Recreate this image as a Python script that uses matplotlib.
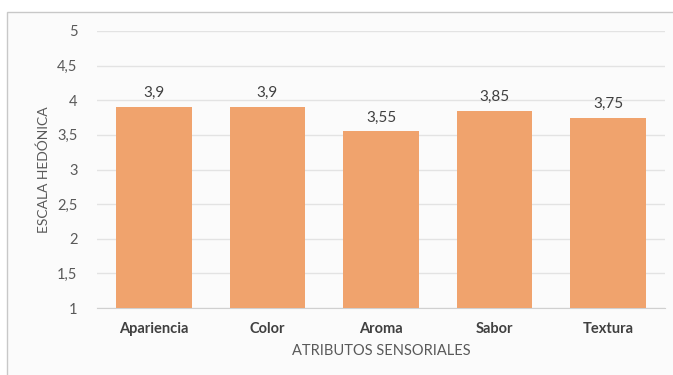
import matplotlib
matplotlib.use("Agg")
from matplotlib import pyplot as plt
from matplotlib.patches import Rectangle

categorias = ["Apariencia", "Color", "Aroma", "Sabor", "Textura"]
valores = [3.9, 3.9, 3.55, 3.85, 3.75]
ticks_y = [1, 1.5, 2, 2.5, 3, 3.5, 4, 4.5, 5]

def fmt(v):
	return ("%g" % v).replace(".", ",")

plt.rcParams['font.family'] = ['Lato', 'DejaVu Sans']

fig = plt.figure(figsize=(6.73, 3.75), dpi=100)
fig.patch.set_facecolor('white')
# chart frame
fig.patches.append(Rectangle((7/673, -0.01), 1.0, 1 - 12/375 + 0.01, transform=fig.transFigure,
	facecolor='#fbfbfb', edgecolor='#c8c8c8', linewidth=1, zorder=-5))

ax = fig.add_axes([97/673, 1 - 308/375, 568/673, 277/375])
ax.set_facecolor('none')
x = range(len(categorias))
ax.bar(x, [v - 1 for v in valores], bottom=1, width=0.667, color='#f0a36d', zorder=3)
for i, v in zip(x, valores):
	ax.text(i, v + 0.1, fmt(v), ha='center', va='bottom', fontsize=11, color='#404040')

ax.set_xlim(-0.5, 4.5)
ax.set_ylim(1, 5)
ax.set_yticks(ticks_y)
ax.set_yticklabels([fmt(t) for t in ticks_y], fontsize=10.5, color='#595959')
ax.set_xticks(list(x))
ax.set_xticklabels(categorias, fontsize=10.5, color='#404040', fontweight='bold')
ax.tick_params(length=0, pad=10)
ax.tick_params(axis='y', pad=14)
ax.grid(axis='y', color='#e3e3e3', linewidth=1, zorder=0)
for s in ['top', 'right', 'left']:
	ax.spines[s].set_visible(False)
ax.spines['bottom'].set_color('#d0d0d0')
ax.set_xlabel('ATRIBUTOS SENSORIALES', fontsize=10.5, color='#595959', labelpad=6)
ax.set_ylabel('ESCALA HEDÓNICA', fontsize=10, color='#595959', labelpad=2)
ax.yaxis.set_label_coords(-47/568, 0.5)

fig.savefig('out.png', dpi=100)
